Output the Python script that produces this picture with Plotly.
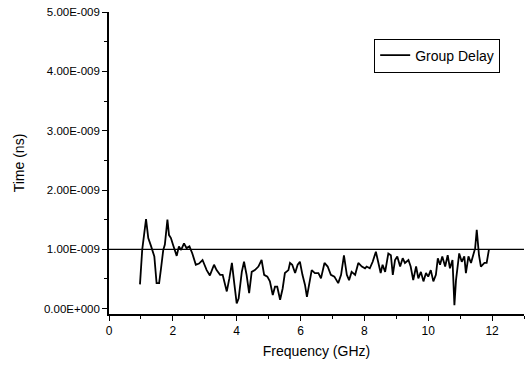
import plotly.graph_objects as go

# Frequency in GHz, group delay in ns (units of 1E-009 s)
freq = [0.97, 1.04, 1.16, 1.23, 1.32, 1.42, 1.49, 1.57, 1.63, 1.70, 1.75, 1.83, 1.88, 1.94,
        2.01, 2.12, 2.19, 2.26, 2.35, 2.43, 2.52, 2.61, 2.72, 2.82, 2.93, 3.06, 3.16, 3.29,
        3.37, 3.48, 3.56, 3.69, 3.77, 3.85, 3.93, 4.00, 4.06, 4.16, 4.23, 4.31, 4.39, 4.47,
        4.57, 4.68, 4.78, 4.86, 4.96, 5.04, 5.13, 5.20, 5.27, 5.36, 5.44, 5.51, 5.62, 5.67,
        5.74, 5.83, 5.91, 5.98, 6.06, 6.14, 6.20, 6.27, 6.35, 6.45, 6.56, 6.64, 6.75, 6.85,
        6.95, 7.06, 7.18, 7.27, 7.36, 7.45, 7.52, 7.60, 7.71, 7.81, 7.92, 8.02, 8.07, 8.17,
        8.26, 8.36, 8.44, 8.51, 8.57, 8.65, 8.75, 8.83, 8.89, 8.96, 9.03, 9.12, 9.20, 9.27,
        9.38, 9.45, 9.53, 9.62, 9.69, 9.77, 9.85, 9.93, 10.00, 10.08, 10.16, 10.24, 10.30,
        10.37, 10.44, 10.53, 10.61, 10.68, 10.76, 10.82, 10.87, 10.92, 10.97, 11.05, 11.13,
        11.18, 11.26, 11.34, 11.41, 11.47, 11.52, 11.59, 11.65, 11.76, 11.83, 11.90]
delay = [0.41, 0.99, 1.51, 1.19, 1.05, 0.88, 0.43, 0.43, 0.68, 0.99, 1.08, 1.50, 1.24, 1.19,
         1.07, 0.89, 1.05, 0.99, 1.10, 1.02, 1.05, 0.93, 0.74, 0.76, 0.82, 0.65, 0.56, 0.74,
         0.65, 0.57, 0.57, 0.29, 0.51, 0.77, 0.40, 0.09, 0.17, 0.62, 0.79, 0.57, 0.26, 0.62,
         0.65, 0.71, 0.82, 0.57, 0.54, 0.46, 0.23, 0.37, 0.37, 0.15, 0.34, 0.60, 0.65, 0.77,
         0.74, 0.60, 0.74, 0.79, 0.57, 0.40, 0.20, 0.40, 0.65, 0.60, 0.60, 0.51, 0.77, 0.71,
         0.57, 0.54, 0.43, 0.57, 0.90, 0.57, 0.48, 0.62, 0.57, 0.77, 0.71, 0.68, 0.71, 0.68,
         0.79, 0.96, 0.79, 0.60, 0.74, 0.62, 0.93, 0.90, 0.57, 0.82, 0.88, 0.71, 0.85, 0.77,
         0.82, 0.71, 0.48, 0.71, 0.51, 0.62, 0.46, 0.60, 0.54, 0.65, 0.46, 0.57, 0.85,
         0.74, 0.88, 0.71, 0.90, 0.68, 0.82, 0.06, 0.48, 0.68, 0.93, 0.79, 0.88,
         0.60, 0.88, 0.77, 0.90, 1.02, 1.33, 0.90, 0.71, 0.77, 0.77, 0.99]

y_tick_vals = [0, 1, 2, 3, 4, 5]
y_tick_text = ["0.00E+000", "1.00E-009", "2.00E-009", "3.00E-009", "4.00E-009", "5.00E-009"]
x_tick_vals = [0, 2, 4, 6, 8, 10, 12]
ref_level = 1.0

font_family = "Liberation Sans, Arial, sans-serif"

fig = go.Figure()
fig.add_trace(go.Scatter(x=freq, y=delay, mode="lines", name="Group Delay",
                         line=dict(color="black", width=1.8)))

fig.add_shape(type="line", xref="paper", yref="y", x0=0, x1=1, y0=ref_level, y1=ref_level,
              line=dict(color="black", width=1.3))

fig.update_layout(
    width=529, height=366,
    margin=dict(l=109, r=5, t=12, b=52),
    paper_bgcolor="white", plot_bgcolor="white",
    font=dict(family=font_family, color="black", size=11),
    showlegend=True,
    legend=dict(x=0.639, y=0.912, xanchor="left", yanchor="top",
                bordercolor="black", borderwidth=1, bgcolor="white",
                font=dict(size=14, family=font_family), itemwidth=30,
                tracegroupgap=0),
    xaxis=dict(range=[0, 13], tickvals=x_tick_vals, ticks="outside", ticklen=5,
               tickwidth=1.3, tickcolor="black", showline=True, linecolor="black",
               linewidth=1.6, showgrid=False, zeroline=False,
               tickfont=dict(size=12),
               minor=dict(dtick=1, tick0=0, ticks="outside", ticklen=3, tickcolor="black"),
               title=dict(text="Frequency (GHz)", font=dict(size=14), standoff=9)),
    yaxis=dict(range=[-0.09, 5.0], tickvals=y_tick_vals, ticktext=y_tick_text,
               ticks="outside", ticklen=5, tickwidth=1.3, tickcolor="black",
               showline=True, linecolor="black", linewidth=1.6, showgrid=False,
               zeroline=False, tickfont=dict(size=11.5),
               minor=dict(dtick=0.5, tick0=0, ticks="outside", ticklen=3, tickcolor="black"),
               title=dict(text="Time (ns)", font=dict(size=14), standoff=16)),
)

fig.write_html("out.html")
